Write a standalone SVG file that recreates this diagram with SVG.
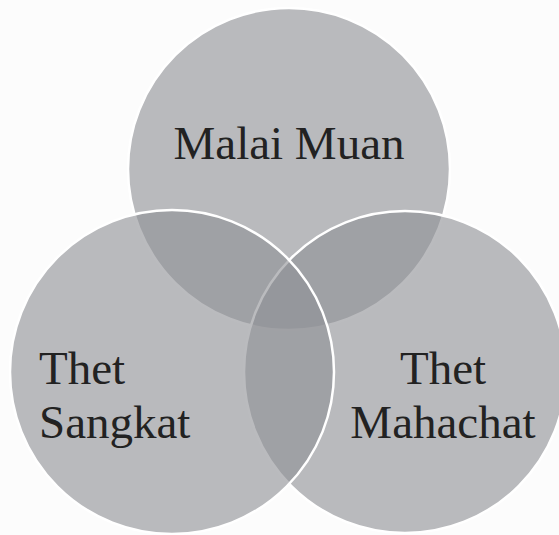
<svg xmlns="http://www.w3.org/2000/svg" width="559" height="535" viewBox="0 0 559 535">
<style>
.c{fill:rgb(143,145,150);fill-opacity:0.62;stroke:#ffffff;stroke-width:2.5}
.t{font-family:"Liberation Serif","Times New Roman",serif;font-size:47px;fill:#222222}
</style>
<rect width="559" height="535" fill="#fcfcfc"/>
<g id="malai-muan">
<circle class="c" cx="289" cy="169" r="161" stroke="none"/>
<text class="t" x="289" y="159" text-anchor="middle">Malai Muan</text>
</g>
<g id="thet-mahachat">
<circle class="c" cx="405" cy="372" r="161"/>
<text class="t" x="443" y="384" text-anchor="middle">Thet</text>
<text class="t" x="443" y="438" text-anchor="middle">Mahachat</text>
</g>
<g id="thet-sangkat">
<circle class="c" cx="172" cy="372" r="162"/>
<text class="t" x="39" y="384">Thet</text>
<text class="t" x="39" y="438">Sangkat</text>
</g>
<g id="connectors"/>
</svg>
